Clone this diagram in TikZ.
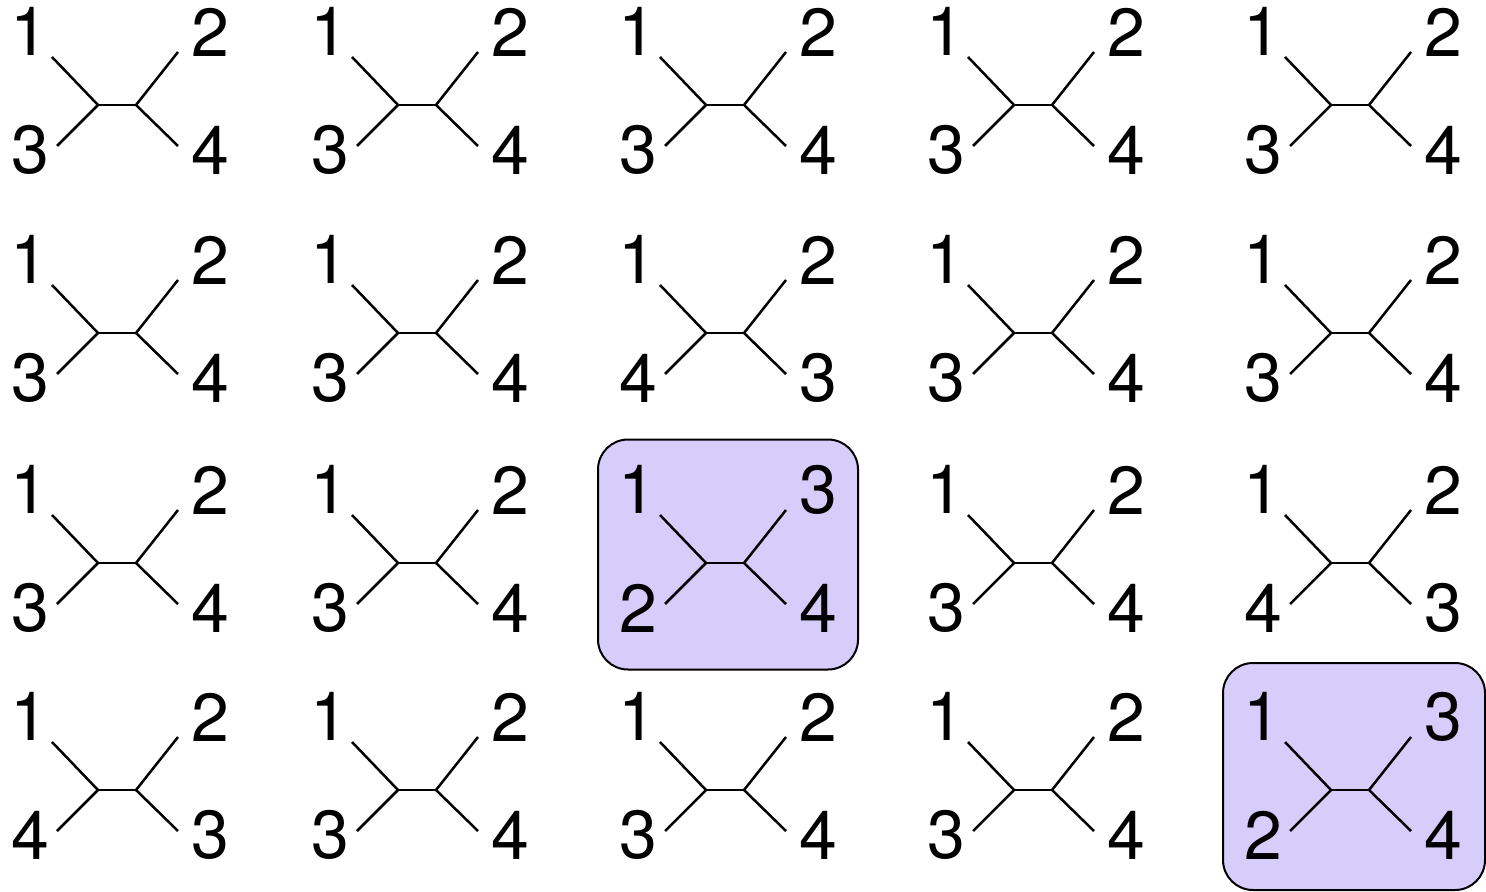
\documentclass[tikz,border=0pt]{standalone}
\usepackage{fontspec}
\setmainfont{TeX Gyre Heros}
\usepackage{tikz}

\definecolor{hlfill}{RGB}{215,205,250}

% one quartet: name, x, y of left inner vertex, then labels TL, TR, BL, BR
\newcommand{\quartet}[7]{%
    \coordinate (#1l) at (#2,#3);
    \coordinate (#1r) at (#2+38,#3);
    \coordinate (#1a) at (#2-46,#3-48);
    \coordinate (#1b) at (#2+80,#3-53);
    \coordinate (#1c) at (#2-41,#3+41);
    \coordinate (#1d) at (#2+80,#3+41);
    \node (#1A) [leaf] at (#2-69,#3-74) {#4};
    \node (#1B) [leaf] at (#2+112,#3-73) {#5};
    \node (#1C) [leaf] at (#2-68,#3+45) {#6};
    \node (#1D) [leaf] at (#2+112,#3+45) {#7};
    \draw [branch] (#1a) -- (#1l) -- (#1c);
    \draw [branch] (#1l) -- (#1r);
    \draw [branch] (#1b) -- (#1r) -- (#1d);
}

\begin{document}
\begin{tikzpicture}[
        x=0.5pt, y=-0.5pt,
        leaf/.style={inner sep=0pt, font=\fontsize{34}{40}\selectfont},
        branch/.style={line width=1.25pt, line cap=butt},
        hlbox/.style={rectangle, draw, line width=1pt, rounded corners=15pt, fill=hlfill, minimum width=130pt, minimum height=115pt}
        ]

        \useasboundingbox (0,0) rectangle (1486,892);

        \node (hlA) [hlbox] at (728,554.5) {};
        \node (hlB) [hlbox, minimum width=131pt, minimum height=113.5pt] at (1354,776.5) {};

        % row 1
        \quartet{qa}{98}{105}{1}{2}{3}{4}
        \quartet{qb}{398}{105}{1}{2}{3}{4}
        \quartet{qc}{706}{105}{1}{2}{3}{4}
        \quartet{qd}{1014}{105}{1}{2}{3}{4}
        \quartet{qe}{1331}{105}{1}{2}{3}{4}

        % row 2
        \quartet{qf}{98}{333}{1}{2}{3}{4}
        \quartet{qg}{398}{333}{1}{2}{3}{4}
        \quartet{qh}{706}{333}{1}{2}{4}{3}
        \quartet{qi}{1014}{333}{1}{2}{3}{4}
        \quartet{qj}{1331}{333}{1}{2}{3}{4}

        % row 3
        \quartet{qk}{98}{563}{1}{2}{3}{4}
        \quartet{ql}{398}{563}{1}{2}{3}{4}
        \quartet{qm}{706}{563}{1}{3}{2}{4}
        \quartet{qn}{1014}{563}{1}{2}{3}{4}
        \quartet{qo}{1331}{563}{1}{2}{4}{3}

        % row 4
        \quartet{qp}{98}{790}{1}{2}{4}{3}
        \quartet{qq}{398}{790}{1}{2}{3}{4}
        \quartet{qr}{706}{790}{1}{2}{3}{4}
        \quartet{qs}{1014}{790}{1}{2}{3}{4}
        \quartet{qt}{1331}{790}{1}{3}{2}{4}

    \end{tikzpicture}
\end{document}
